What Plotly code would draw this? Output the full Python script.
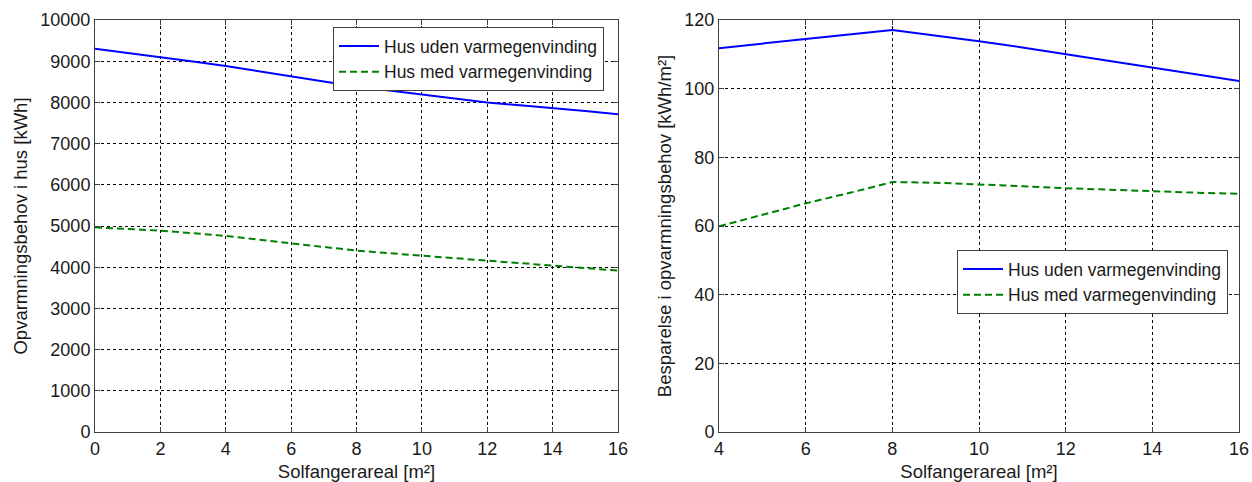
import plotly.graph_objects as go

# Left chart data
x_left = [0, 1, 2, 3, 4, 5, 6, 7, 8, 9, 10, 11, 12, 13, 14, 15, 16]
uden_left = [9305, 9205, 9110, 8995, 8885, 8765, 8643, 8510, 8384, 8290, 8199, 8100, 7997, 7930, 7868, 7790, 7714]
med_left = [4968, 4930, 4887, 4825, 4758, 4670, 4580, 4490, 4402, 4340, 4281, 4220, 4160, 4100, 4039, 3980, 3918]

# Right chart data
x_right = [4, 5, 6, 7, 8, 9, 10, 11, 12, 13, 14, 15, 16]
uden_right = [111.8, 113.2, 114.5, 115.8, 117.1, 115.5, 113.8, 112.0, 110.1, 108.2, 106.3, 104.2, 102.2]
med_right = [59.9, 63.2, 66.6, 69.6, 72.8, 72.6, 72.2, 71.6, 71.0, 70.5, 70.0, 69.7, 69.4]

name_uden = "Hus uden varmegenvinding"
name_med = "Hus med varmegenvinding"
x_title = "Solfangerareal [m²]"
y_title_left = "Opvarmningsbehov i hus [kWh]"
y_title_right = "Besparelse i opvarmningsbehov [kWh/m²]"

W, H = 1252, 482
FONT = "Liberation Sans, Arial, sans-serif"
TXT = "#1a1a1a"


def px_x(p):
    return p / W


def px_y(p):
    return 1 - p / H


fig = go.Figure()
blue = dict(color="#0000FF", width=2)
green = dict(color="#008000", width=2, dash="7px,4px")

fig.add_trace(go.Scatter(x=x_left, y=uden_left, mode="lines", name=name_uden, line=blue,
                         xaxis="x", yaxis="y", legend="legend"))
fig.add_trace(go.Scatter(x=x_left, y=med_left, mode="lines", name=name_med, line=green,
                         xaxis="x", yaxis="y", legend="legend"))
fig.add_trace(go.Scatter(x=x_right, y=uden_right, mode="lines", name=name_uden, line=blue,
                         xaxis="x2", yaxis="y2", legend="legend2"))
fig.add_trace(go.Scatter(x=x_right, y=med_right, mode="lines", name=name_med, line=green,
                         xaxis="x2", yaxis="y2", legend="legend2"))

axis_common = dict(
    showline=True, linecolor="#404040", linewidth=1, mirror="ticks",
    ticks="inside", ticklen=5, tickcolor="#404040",
    showgrid=True, gridcolor="black", gridwidth=1, griddash="3px,3px",
    zeroline=False, automargin=False, tickformat="d",
    tickfont=dict(family=FONT, size=18, color=TXT),
    title_font=dict(family=FONT, size=18.5, color=TXT),
)

ydom = [px_y(432), px_y(20)]
legend_common = dict(
    xanchor="left", yanchor="top", bgcolor="white", bordercolor="#404040",
    borderwidth=1, font=dict(family=FONT, size=17.5, color=TXT), tracegroupgap=0,
    itemwidth=40,
)
fig.update_layout(
    width=W, height=H, margin=dict(l=0, r=0, t=0, b=0, autoexpand=False),
    paper_bgcolor="white", plot_bgcolor="white",
    font=dict(family=FONT, size=18, color=TXT),
    xaxis=dict(domain=[px_x(95), px_x(618)], range=[0, 16], dtick=2, anchor="y",
               title=dict(text=x_title, standoff=7), **axis_common),
    yaxis=dict(domain=ydom, range=[0, 10000], dtick=1000, anchor="x",
               title=dict(text=y_title_left, standoff=7), **axis_common),
    xaxis2=dict(domain=[px_x(719), px_x(1239)], range=[4, 16], dtick=2, anchor="y2",
                title=dict(text=x_title, standoff=7), **axis_common),
    yaxis2=dict(domain=ydom, range=[0, 120], dtick=20, anchor="x2",
                title=dict(text=y_title_right, standoff=7), **axis_common),
    legend=dict(x=px_x(333), y=px_y(27), **legend_common),
    legend2=dict(x=px_x(957), y=px_y(250), **legend_common),
    showlegend=True,
)

fig.write_html(
    "out.html",
    config={"displayModeBar": False},
    post_script="document.body.style.margin='0px';document.body.style.overflow='hidden';",
)
